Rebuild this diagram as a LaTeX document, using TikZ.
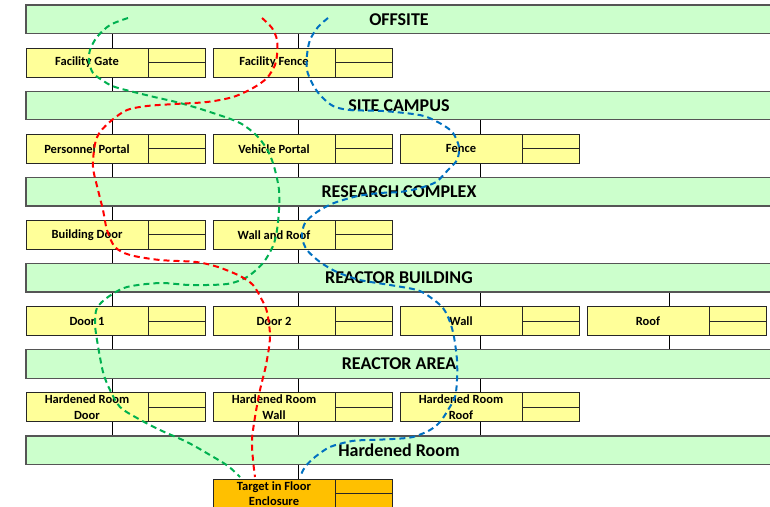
\documentclass[tikz,border=0pt]{standalone}
\usepackage{fontspec}
\setmainfont{Carlito}
\usetikzlibrary{positioning,backgrounds}
\definecolor{mint}{RGB}{204,255,204}
\definecolor{butter}{RGB}{255,255,153}
\definecolor{amber}{RGB}{255,192,0}
\definecolor{frame}{RGB}{85,85,85}
\definecolor{pgreen}{RGB}{0,176,80}
\definecolor{pred}{RGB}{255,0,0}
\definecolor{pblue}{RGB}{0,112,192}
\tikzset{
  band/.style={draw=frame,line width=1.3pt,fill=mint,anchor=north west,outer sep=0pt,
    minimum width=746pt,minimum height=28.5pt,inner sep=0pt,font=\fontsize{18}{20}\selectfont\bfseries},
  cell/.style={draw=black!85,line width=1pt,fill=#1,anchor=north west,outer sep=0pt,
    minimum width=122pt,minimum height=29pt,inner sep=0pt,align=center,
    font=\fontsize{12.5}{15.5}\selectfont\bfseries},
  cell/.default=butter,
  side/.style={draw=black!85,line width=1pt,fill=#1,anchor=west,outer sep=0pt,
    minimum width=57.5pt,minimum height=29pt,inner sep=0pt,
    path picture={\draw[black!85,line width=1pt] (path picture bounding box.west) -- (path picture bounding box.east);}},
  side/.default=butter,
  trunk/.style={draw=black,line width=1pt},
  route/.style={line width=2pt,dash pattern=on 6pt off 4pt,draw=#1},
}

\begin{document}
\begin{tikzpicture}[x=1pt,y=-1pt]
  \useasboundingbox (0,0) rectangle (770,506);
  % layers
  \node[band] (offsite)  at (26,5)     {OFFSITE};
  \node[band] (campus)   at (26,91.2)  {SITE CAMPUS};
  \node[band] (research) at (26,177.4) {RESEARCH COMPLEX};
  \node[band] (rbuild)   at (26,263.6) {REACTOR BUILDING};
  \node[band] (rarea)    at (26,349.8) {REACTOR AREA};
  \node[band] (hroom)    at (26,436)   {Hardened Room};
  % barriers
  \node[cell] (gate) at (26,48) {Facility Gate};      \node[side] (gate-s) at (gate.east) {};
  \node[cell] (ffence) at (213,48) {Facility Fence};  \node[side] (ffence-s) at (ffence.east) {};
  \node[cell] (personnel) at (26,134.2) {Personnel Portal}; \node[side] (personnel-s) at (personnel.east) {};
  \node[cell] (vehicle) at (213,134.2) {Vehicle Portal};    \node[side] (vehicle-s) at (vehicle.east) {};
  \node[cell] (sfence) at (400,134.2) {Fence};              \node[side] (sfence-s) at (sfence.east) {};
  \node[cell] (bdoor) at (26,220.4) {Building Door};        \node[side] (bdoor-s) at (bdoor.east) {};
  \node[cell] (wallroof) at (213,220.4) {Wall and Roof};    \node[side] (wallroof-s) at (wallroof.east) {};
  \node[cell] (door1) at (26,306.6) {Door 1};   \node[side] (door1-s) at (door1.east) {};
  \node[cell] (door2) at (213,306.6) {Door 2};  \node[side] (door2-s) at (door2.east) {};
  \node[cell] (wall) at (400,306.6) {Wall};     \node[side] (wall-s) at (wall.east) {};
  \node[cell] (roof) at (587,306.6) {Roof};     \node[side] (roof-s) at (roof.east) {};
  \node[cell] (hrdoor) at (26,392.8) {Hardened Room\\Door};  \node[side] (hrdoor-s) at (hrdoor.east) {};
  \node[cell] (hrwall) at (213,392.8) {Hardened Room\\Wall}; \node[side] (hrwall-s) at (hrwall.east) {};
  \node[cell] (hrroof) at (400,392.8) {Hardened Room\\Roof}; \node[side] (hrroof-s) at (hrroof.east) {};
  \node[cell=amber] (target) at (213,479) {Target in Floor\\Enclosure}; \node[side=amber] (target-s) at (target.east) {};
  % tree lines
  \coordinate (t1) at (112,0); \coordinate (t2) at (298,0);
  \coordinate (t3) at (480,0); \coordinate (t4) at (669,0);
  \begin{scope}[on background layer]
    \draw[trunk] (offsite.south -| t1) -- (hroom.north -| t1);
    \draw[trunk] (offsite.south -| t2) -- (target.north -| t2);
    \draw[trunk] (campus.south -| t3) -- (research.north -| t3);
    \draw[trunk] (rbuild.south -| t3) -- (hroom.north -| t3);
    \draw[trunk] (rbuild.south -| t4) -- (rarea.north -| t4);
  \end{scope}
  % adversary paths
  \coordinate (g0) at (128,18); \coordinate (g1) at (240,477);
  \coordinate (r0) at (262,18); \coordinate (r1) at (255,477);
  \coordinate (b0) at (328,18); \coordinate (b1) at (300,477);
  \draw[route=pgreen] plot[smooth,tension=0.5] coordinates {(g0) (110,25) (97,37) (90,50) (89,62) (93,73)
    (102,80) (115,87) (150,96) (180,103) (210,112) (240,123) (258,137) (269,153) (275,170) (279,190)
    (279,210) (277,230) (273,246) (263,263) (247,277) (227,284) (190,285) (160,283) (127,287) (108,297)
    (97,308) (95,323) (97,340) (103,372) (110,390) (120,407) (137,418) (160,430) (187,442) (210,455)
    (228,466) (g1)};
  \draw[route=pred] plot[smooth,tension=0.5] coordinates {(r0) (272,28) (277,40) (277,55) (275,65) (267,78)
    (253,88) (233,97) (207,102) (175,104) (147,106) (127,110) (112,120) (100,132) (95,144) (93,167)
    (98,190) (103,210) (107,230) (115,247) (130,255) (160,260) (196,262) (218,267) (240,276) (253,285)
    (262,300) (267,312) (270,337) (266,365) (260,390) (255,417) (252,440) (253,460) (r1)};
  \draw[route=pblue] plot[smooth,tension=0.5] coordinates {(b0) (318,27) (310,40) (307,55) (307,70) (312,83)
    (320,95) (333,106) (350,110) (383,111) (413,114) (427,117) (443,125) (453,133) (459,147) (457,160)
    (448,170) (436,182) (420,188) (400,192) (380,193) (358,196) (334,203) (317,212) (305,223) (302,237)
    (307,250) (320,262) (337,272) (360,280) (390,285) (417,290) (430,297) (443,308) (450,322) (454,337)
    (457,360) (457,380) (455,397) (448,410) (440,422) (430,430) (413,437) (393,439) (370,440) (352,441)
    (330,447) (315,457) (305,467) (b1)};
\end{tikzpicture}
\end{document}
